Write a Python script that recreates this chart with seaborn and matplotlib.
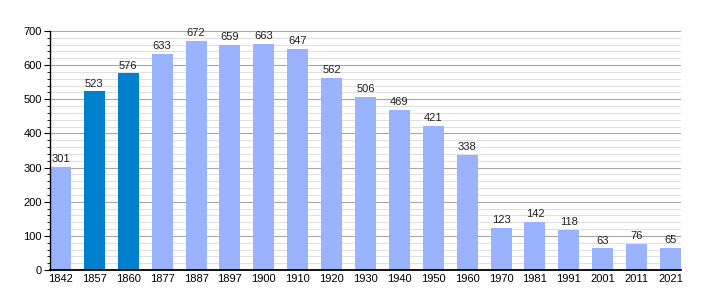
import matplotlib
matplotlib.use("Agg")
import matplotlib.pyplot as plt
import seaborn as sns
import pandas as pd
from matplotlib.ticker import MultipleLocator

years = ["1842", "1857", "1860", "1877", "1887", "1897", "1900", "1910", "1920", "1930",
         "1940", "1950", "1960", "1970", "1981", "1991", "2001", "2011", "2021"]
population = [301, 523, 576, 633, 672, 659, 663, 647, 562, 506,
              469, 421, 338, 123, 142, 118, 63, 76, 65]
highlight = ["1857", "1860"]

sns.set_style("white")
plt.rcParams["font.family"] = ["Liberation Sans", "DejaVu Sans"]

df = pd.DataFrame({"year": years, "pop": population})
df["kind"] = ["dark" if y in highlight else "light" for y in years]

fig = plt.figure(figsize=(7.1, 3.0), dpi=100)
ax = fig.add_axes([50/710, 30/300, 631/710, 239/300])

sns.barplot(data=df, x="year", y="pop", hue="kind",
            palette={"light": "#99b3ff", "dark": "#0080cc"},
            width=0.62, dodge=False, legend=False, ax=ax, zorder=3,
            saturation=1, linewidth=0, edgecolor="none")

ax.set_ylim(0, 700)
ax.set_xlim(-0.31, len(years) - 1 + 0.31)
ax.yaxis.set_major_locator(MultipleLocator(100))
ax.yaxis.set_minor_locator(MultipleLocator(20))
ax.grid(which="major", axis="y", color="#a8a8a8", linewidth=0.8, zorder=0)
ax.grid(which="minor", axis="y", color="#e0e0e0", linewidth=0.8, zorder=0)
ax.set_axisbelow(True)
for s in ["top", "right"]:
    ax.spines[s].set_visible(False)
ax.spines["left"].set_color("black")
ax.spines["bottom"].set_color("black")
ax.spines["left"].set_linewidth(1)
ax.spines["bottom"].set_linewidth(1.3)
ax.spines["bottom"].set_zorder(5)
ax.spines["left"].set_zorder(5)
ax.tick_params(axis="y", which="major", length=4, width=0.8, direction="out", left=True,
               labelsize=8, pad=2, colors="black")
ax.tick_params(axis="y", which="minor", length=2, width=0.6, direction="out", left=True, colors="black")
ax.tick_params(axis="x", length=0, labelsize=8, pad=3, colors="black")
ax.set_xlabel("")
ax.set_ylabel("")

for cont in ax.containers:
    ax.bar_label(cont, fmt="%d", fontsize=8, padding=2, color="#222222")

fig.savefig("out.png", dpi=100)
